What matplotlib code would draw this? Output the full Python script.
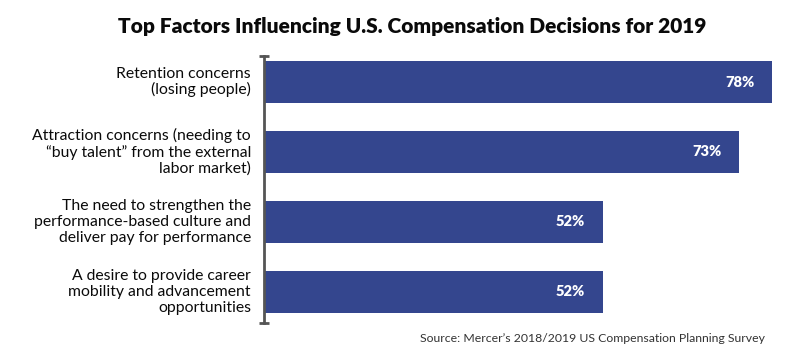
import matplotlib
matplotlib.use("Agg")
import matplotlib.pyplot as plt

categories = [
    "Retention concerns\n(losing people)",
    "Attraction concerns (needing to\n\u201cbuy talent\u201d from the external\nlabor market)",
    "The need to strengthen the\nperformance-based culture and\ndeliver pay for performance",
    "A desire to provide career\nmobility and advancement\nopportunities",
]
values = [78, 73, 52, 52]
value_labels = ["78%", "73%", "52%", "52%"]
title = "Top Factors Influencing U.S. Compensation Decisions for 2019"
source = "Source: Mercer\u2019s 2018/2019 US Compensation Planning Survey"

W, H = 805, 364
fig = plt.figure(figsize=(W / 100, H / 100), dpi=100)
ax_left, ax_right = 264, 785
ax_top, ax_bot = 55.7, 322.7
ax = fig.add_axes([ax_left / W, 1 - ax_bot / H, (ax_right - ax_left) / W, (ax_bot - ax_top) / H])

bar_color = "#34468e"
ypos = list(range(len(values)))
ax.barh(ypos, values, height=0.59, color=bar_color, left=0)
ax.set_xlim(0, 80)
ax.set_ylim(3.44, -0.376)

for y, v, lab in zip(ypos, values, value_labels):
    ax.text(v - 2.7, y, lab, color="white", fontsize=10.5, fontweight="heavy",
            ha="right", va="center", family="Lato")

for s in ["top", "right", "bottom"]:
    ax.spines[s].set_visible(False)
ax.spines["left"].set_color("#555555")
ax.spines["left"].set_linewidth(2)
ax.set_xticks([])
ax.set_yticks([])
# end caps
ax.plot([-0.8, 0.8], [-0.376, -0.376], color="#555555", lw=2, clip_on=False, solid_capstyle="butt")
ax.plot([-0.8, 0.8], [3.44, 3.44], color="#555555", lw=2, clip_on=False, solid_capstyle="butt")

for y, c in zip(ypos, categories):
    ax.text(-2.0, y, c, ha="right", va="center", fontsize=11.3, family="Lato",
            color="#0a0a0a", linespacing=1.15)

fig.text(412 / W, 1 - 27 / H, title, ha="center", va="center", fontsize=15,
         fontweight="heavy", family="Lato", color="#0a0a0a")
fig.text(765 / W, 1 - 338 / H, source, ha="right", va="center", fontsize=8.8,
         family="Lato", color="#333333")

fig.savefig("out.png", dpi=100)
